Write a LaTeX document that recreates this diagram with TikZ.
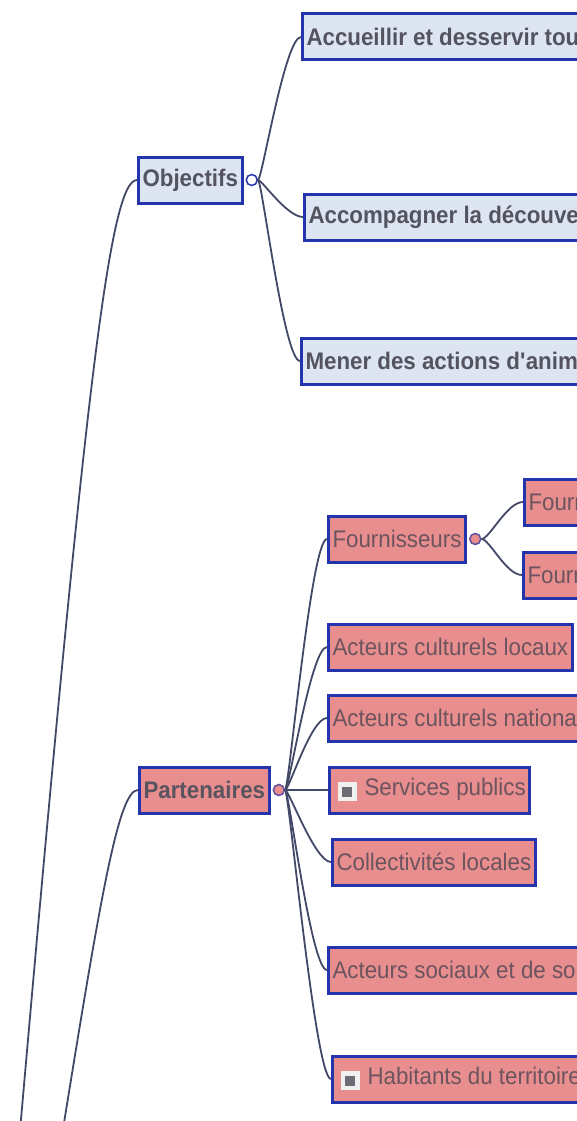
\documentclass[tikz,border=0pt]{standalone}
\usepackage{fontspec}
\setmainfont{Liberation Sans}[FakeStretch=0.93]
\usetikzlibrary{positioning}

\definecolor{boxblue}{RGB}{36,52,172}
\definecolor{objfill}{RGB}{222,229,242}
\definecolor{partfill}{RGB}{232,142,142}
\definecolor{txtgray}{RGB}{84,84,96}
\definecolor{parttxt}{RGB}{108,84,94}
\definecolor{linkcol}{RGB}{66,72,104}
\definecolor{iconbg}{RGB}{240,240,240}
\definecolor{icondk}{RGB}{108,108,116}

\newcommand{\noteicon}{\hspace{4pt}\raisebox{-1pt}{\setlength{\fboxsep}{4.5pt}\colorbox{iconbg}{\textcolor{icondk}{\rule{10pt}{10pt}}}}\hspace{8pt}}

\begin{document}
\begin{tikzpicture}[x=1pt, y=-1pt]
    \tikzstyle{objbox} = [rectangle, draw=boxblue, line width=3pt, fill=objfill, text=txtgray, font=\fontsize{24}{28}\selectfont\bfseries, minimum height=46pt, inner xsep=4pt, anchor=west]
    \tikzstyle{partbox} = [rectangle, draw=boxblue, line width=3pt, fill=partfill, text=parttxt, font=\fontsize{24}{28}\selectfont, minimum height=46pt, inner xsep=4pt, anchor=west]
    \tikzstyle{cutbox} = [execute at begin node={\hbox to 410pt\bgroup}, execute at end node={\hfil\egroup}]
    \tikzstyle{knob} = [circle, draw=boxblue, line width=1.5pt, fill=white, minimum size=11pt, inner sep=0pt]
    \tikzstyle{link} = [draw=linkcol, line width=1.8pt]

    \useasboundingbox (0,0) rectangle (577,1121);
    \clip (0,0) rectangle (577,1121);

    % main branches
    \node (obj) [objbox] at (137,180) {Objectifs};
    \node (part) [partbox, font=\fontsize{24}{28}\selectfont\bfseries, text=txtgray!80!parttxt] at (138,790) {Partenaires};
    \node (objk) [knob, right=2pt of obj] {};
    \node (partk) [knob, fill=partfill, draw=boxblue!70!partfill, right=2pt of part] {};

    % objectifs
    \node (acc1) [objbox, cutbox] at (301,37) {Accueillir et desservir tou};
    \node (acc2) [objbox, cutbox] at (303,217) {Accompagner la découve};
    \node (acc3) [objbox, cutbox] at (300,361) {Mener des actions d\textquotesingle anima};

    % partenaires
    \node (four) [partbox] at (327,539) {Fournisseurs};
    \node (fourk) [knob, fill=partfill, draw=boxblue!70!partfill, right=2pt of four] {};
    \node (four1) [partbox, cutbox] at (523,502) {Fourn};
    \node (four2) [partbox, cutbox] at (522,575) {Fourn};
    \node (acl) [partbox] at (327,647) {Acteurs culturels locaux};
    \node (acn) [partbox, cutbox] at (327,718) {Acteurs culturels nationau};
    \node (sp) [partbox] at (328,790) {\noteicon Services publics};
    \node (coll) [partbox] at (331,862) {Collectivités locales};
    \node (aso) [partbox, cutbox] at (327,970) {Acteurs sociaux et de sol};
    \node (hab) [partbox, cutbox] at (331,1079) {\noteicon Habitants du territoire};

    % root lines come from below the picture
    \coordinate (rootobj) at (14,1200);
    \coordinate (rootpart) at (58,1160);
    \draw [link] (rootobj) .. controls (85,380) and (110,180) .. (obj.west);
    \draw [link] (rootpart) .. controls (100,900) and (118,790) .. (part.west);

    \draw [link] (objk.east) .. controls +(4,0) and +(-16,0) .. (acc1.west);
    \draw [link] (objk.east) .. controls +(4,0) and +(-16,0) .. (acc2.west);
    \draw [link] (objk.east) .. controls +(4,0) and +(-16,0) .. (acc3.west);

    \draw [link] (partk.east) .. controls +(4,0) and +(-16,0) .. (four.west);
    \draw [link] (partk.east) .. controls +(4,0) and +(-16,0) .. (acl.west);
    \draw [link] (partk.east) .. controls +(4,0) and +(-16,0) .. (acn.west);
    \draw [link] (partk.east) -- (sp.west);
    \draw [link] (partk.east) .. controls +(4,0) and +(-16,0) .. (coll.west);
    \draw [link] (partk.east) .. controls +(4,0) and +(-16,0) .. (aso.west);
    \draw [link] (partk.east) .. controls +(4,0) and +(-16,0) .. (hab.west);

    \draw [link] (fourk.east) .. controls +(8,0) and +(-16,0) .. (four1.west);
    \draw [link] (fourk.east) .. controls +(8,0) and +(-16,0) .. (four2.west);
\end{tikzpicture}
\end{document}
